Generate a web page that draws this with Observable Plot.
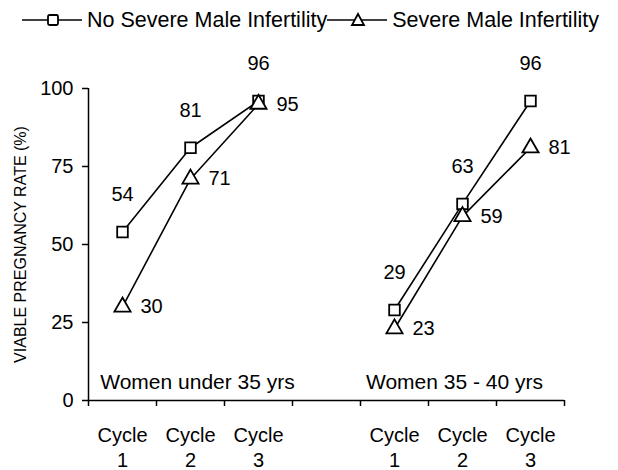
<!DOCTYPE html>
<html>
<head>
<meta charset="utf-8">
<script src="https://cdn.jsdelivr.net/npm/d3@7"></script>
<script src="https://cdn.jsdelivr.net/npm/@observablehq/plot@0.6"></script>
<style>
  body { margin: 0; background: #fff; font-family: "Liberation Sans", Arial, sans-serif; }
  #legend { height: 40px; display: flex; align-items: center; padding-left: 22px; font-size: 21.5px; color: #000; white-space: nowrap; }
  #legend .item { display: flex; align-items: center; }
  #legend svg { display: block; }
</style>
</head>
<body>
<div id="legend"></div>
<div id="chart"></div>
<script>
// ---- data ----
const groups = ["Women under 35 yrs", "Women 35 - 40 yrs"];
const cycles = ["1", "2", "3"];
const seriesNames = ["No Severe Male Infertility", "Severe Male Infertility"];
const noSevere = [[54, 81, 96], [29, 63, 96]];
const severe = [[30, 71, 95], [23, 59, 81]];
const yTicks = [0, 25, 50, 75, 100];
const yTitle = "VIABLE PREGNANCY RATE (%)";

// category slots: 3 cycles, one empty slot, 3 cycles
const slot = (g, c) => g * (cycles.length + 1) + c + 0.5;
const nSlots = groups.length * cycles.length + (groups.length - 1);

const rows = [];
[noSevere, severe].forEach((vals, s) => {
  groups.forEach((g, gi) => {
    cycles.forEach((c, ci) => {
      rows.push({series: seriesNames[s], group: g, gi, cycle: c, x: slot(gi, ci), y: vals[gi][ci]});
    });
  });
});
const cycleRows = groups.flatMap((g, gi) => cycles.map((c, ci) => ({x: slot(gi, ci), label: "Cycle\n" + c})));
const groupRows = groups.map((g, gi) => ({x: slot(gi, 1), label: g}));

// ---- legend ----
const legend = document.getElementById("legend");
const symbolSvg = (kind) => {
  const shape = kind === "square"
    ? '<rect x="26" y="6" width="10" height="10" rx="1.5" fill="#fff" stroke="#000" stroke-width="1.8"/>'
    : '<path d="M31,5 L37,16 L25,16 Z" fill="#fff" stroke="#000" stroke-width="1.8"/>';
  return `<svg width="60" height="22"><line x1="0" x2="60" y1="11" y2="11" stroke="#000" stroke-width="1.6"/>${shape}</svg>`;
};
legend.innerHTML =
  `<span class="item">${symbolSvg("square")}<span style="margin-left:5px">${seriesNames[0]}</span></span>` +
  `<span class="item">${symbolSvg("triangle")}<span style="margin-left:5px">${seriesNames[1]}</span></span>`;

// ---- chart ----
const font = "Liberation Sans, Arial, sans-serif";
const plot = Plot.plot({
  width: 618,
  height: 430,
  marginTop: 48,
  marginBottom: 70,
  marginLeft: 88,
  marginRight: 54,
  style: {fontFamily: font, fontSize: "20px", color: "#000", background: "#fff", overflow: "visible"},
  x: {type: "linear", domain: [0, nSlots], axis: null},
  y: {domain: [0, 100], axis: null},
  symbol: {domain: seriesNames, range: ["square", "triangle"]},
  marks: [
    // axes
    Plot.ruleY([0], {stroke: "#000", strokeWidth: 1.5}),
    Plot.ruleX([0], {stroke: "#000", strokeWidth: 1.5}),
    Plot.axisY({ticks: yTicks, tickSize: 6, tickPadding: 9, stroke: "#000", strokeWidth: 1.5, fontSize: 20, label: null}),
    Plot.axisX({ticks: d3.range(0, nSlots + 1), tickSize: 6, tickFormat: () => "", stroke: "#000", strokeWidth: 1.5, label: null}),
    Plot.text(cycleRows, {x: "x", y: () => 0, text: "label", dy: 46, lineHeight: 1.25, fontSize: 20, fill: "#000"}),
    Plot.text([yTitle], {frameAnchor: "left", textAnchor: "middle", dx: -68, rotate: -90, fontSize: 16, fill: "#000", text: d => d}),
    Plot.text(groupRows.slice(0, 1), {x: "x", y: () => 0, text: "label", dx: 7, dy: -18, fontSize: 21, fill: "#000"}),
    Plot.text(groupRows.slice(1), {x: "x", y: () => 0, text: "label", dx: -8, dy: -18, fontSize: 21, fill: "#000"}),
    // series lines
    Plot.line(rows, {x: "x", y: "y", z: d => d.series + d.group, stroke: "#000", strokeWidth: 1.6}),
    Plot.dot(rows, {x: "x", y: "y", symbol: "series", r: 6, stroke: "#000", fill: "#fff", strokeWidth: 1.8}),
    // value labels
    Plot.text(rows.filter(d => d.series === seriesNames[0]), {x: "x", y: "y", text: d => String(d.y), dy: -37, fontSize: 20, fill: "#000"}),
    Plot.text(rows.filter(d => d.series === seriesNames[1]), {x: "x", y: "y", text: d => String(d.y), dx: 18, textAnchor: "start", fontSize: 20, fill: "#000"})
  ]
});
document.getElementById("chart").appendChild(plot);
</script>
</body>
</html>
